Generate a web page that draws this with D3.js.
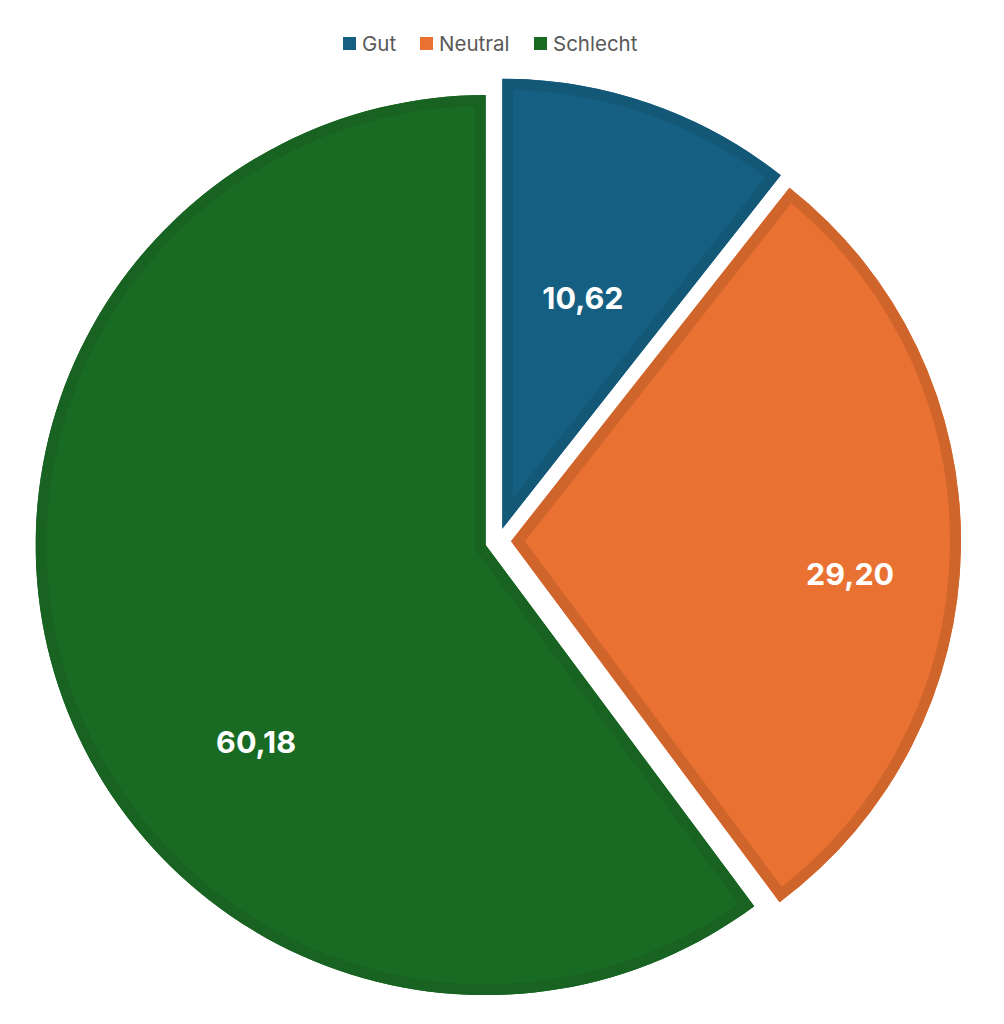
<!DOCTYPE html>
<html>
<head>
<meta charset="utf-8">
<script src="https://cdn.jsdelivr.net/npm/d3@7"></script>
<style>
  html, body { margin: 0; padding: 0; background: #ffffff; }
  svg { display: block; }
</style>
</head>
<body>
<script>
// ---- data ----
const categories = ["Gut", "Neutral", "Schlecht"];
const values = [10.62, 29.20, 60.18];
const labels = ["10,62", "29,20", "60,18"];

// ---- styles / layout ----
const fills = ["#156082", "#E97132", "#196B24"];
const borders = ["#145878", "#D0652C", "#186222"];
// label placement: angle (deg, clockwise from top) and distance as a fraction of radius
const labelAngles = [19.2, 95.4, 229.4];
const labelRadii = [0.545, 0.757, 0.672];

const W = 1004, H = 1024;
const cx = 498, cy = 541, R = 450, explode = 13, band = 11;

const svg = d3.select("body").append("svg").attr("width", W).attr("height", H);
svg.append("rect").attr("width", W).attr("height", H).attr("fill", "#ffffff");

const pie = d3.pie().sort(null).value(d => d)(values);
const arc = d3.arc().innerRadius(0).outerRadius(R);

const defs = svg.append("defs");
const g = svg.append("g").attr("transform", `translate(${cx},${cy})`);

pie.forEach((p, i) => {
  const mid = (p.startAngle + p.endAngle) / 2;
  const dx = Math.sin(mid) * explode, dy = -Math.cos(mid) * explode;
  const sg = g.append("g").attr("transform", `translate(${dx},${dy})`);
  const d = arc(p);
  defs.append("clipPath").attr("id", "clip" + i).append("path").attr("d", d);
  sg.append("path").attr("d", d).attr("fill", fills[i]);
  sg.append("path").attr("d", d)
    .attr("fill", "none")
    .attr("stroke", borders[i])
    .attr("stroke-width", band * 2)
    .attr("stroke-linejoin", "miter")
    .attr("clip-path", `url(#clip${i})`);
});

// labels
pie.forEach((p, i) => {
  const mid = (p.startAngle + p.endAngle) / 2;
  const ox = Math.sin(mid) * explode, oy = -Math.cos(mid) * explode;
  const a = labelAngles[i] * Math.PI / 180;
  const r = labelRadii[i] * R;
  g.append("text")
    .attr("x", ox + Math.sin(a) * r)
    .attr("y", oy - Math.cos(a) * r)
    .attr("text-anchor", "middle")
    .attr("dominant-baseline", "central")
    .attr("fill", "#ffffff")
    .attr("font-family", "Inter, 'Open Sans', sans-serif")
    .attr("font-weight", "bold")
    .attr("font-size", 30.5)
    .text(labels[i]);
});

// legend
const legend = svg.append("g");
const itemX = [343, 420, 534];
categories.forEach((c, i) => {
  const it = legend.append("g").attr("transform", `translate(${itemX[i]},37)`);
  it.append("rect").attr("width", 13).attr("height", 13).attr("fill", fills[i]);
  it.append("text")
    .attr("x", 19).attr("y", 6.5)
    .attr("dominant-baseline", "central")
    .attr("fill", "#595959")
    .attr("font-family", "Inter, 'Open Sans', sans-serif")
    .attr("font-size", 20.5)
    .text(c);
});
</script>
</body>
</html>
